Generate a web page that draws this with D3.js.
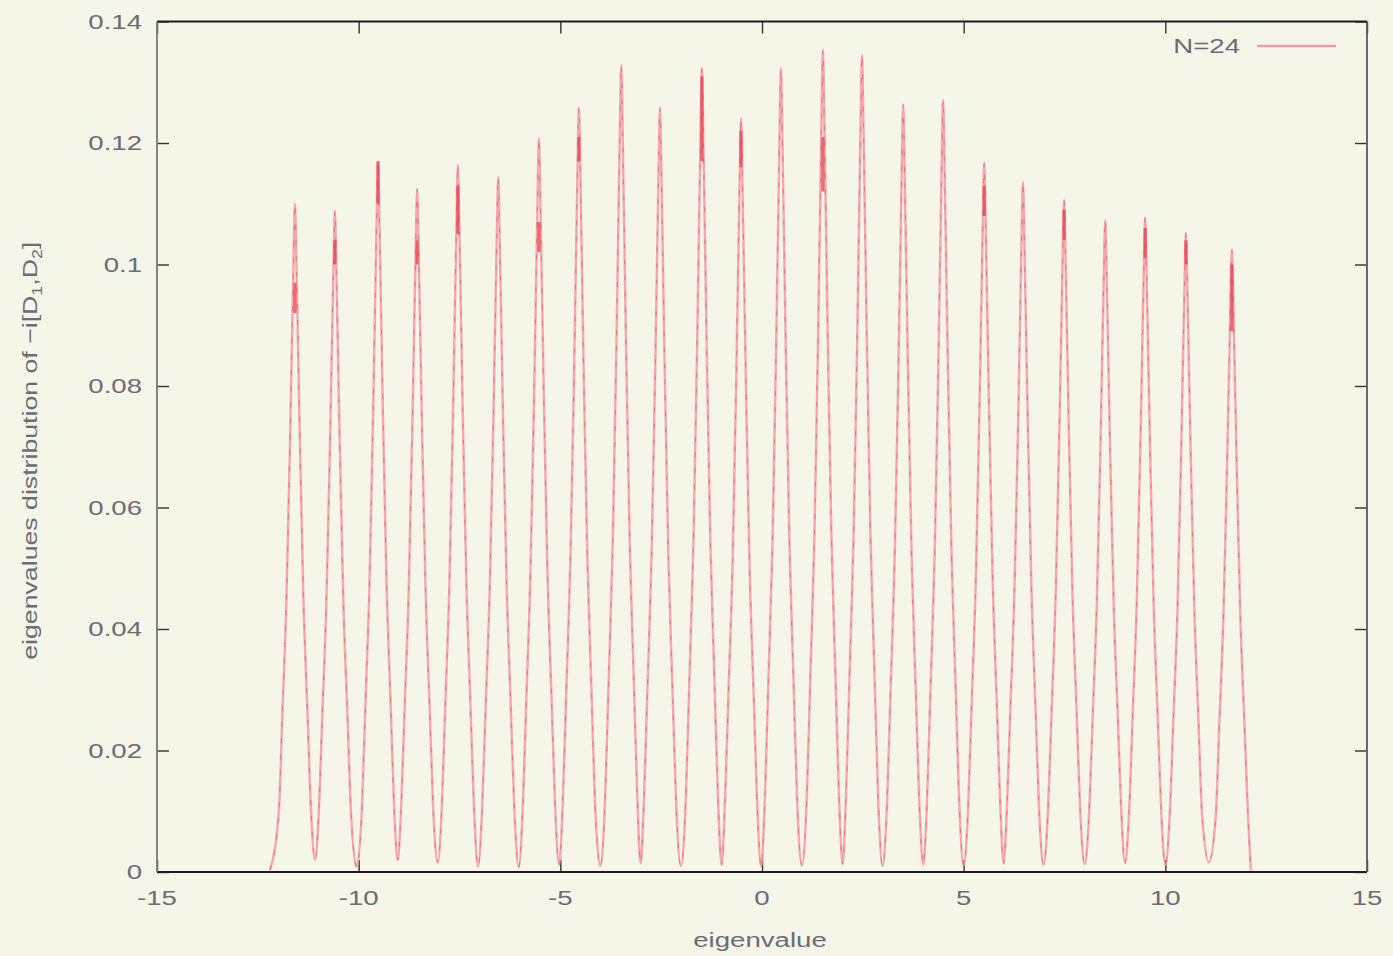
<!DOCTYPE html>
<html>
<head>
<meta charset="utf-8">
<script src="https://cdn.jsdelivr.net/npm/d3@7"></script>
<style>
  html, body { margin: 0; padding: 0; background: #f5f5e8; }
  svg { display: block; }
  text { font-family: "Liberation Sans", Arial, Helvetica, sans-serif; }
</style>
</head>
<body>
<svg id="chart" width="1393" height="956"></svg>
<script>
// Axis ticks and their printed labels
const xTicks = [-15, -10, -5, 0, 5, 10, 15];
const xTickLabels = ["-15", "-10", "-5", "0", "5", "10", "15"];
const yTicks = [0, 0.02, 0.04, 0.06, 0.08, 0.1, 0.12, 0.14];
const yTickLabels = ["0", "0.02", "0.04", "0.06", "0.08", "0.1", "0.12", "0.14"];

const seriesName = "N=24";
const xTitle = "eigenvalue";

// Eigenvalue density trace, one row per peak (valley, rising flank, peak, falling flank)
const trace = [
  [-12.20, 0.0003],
  [-11.98, 0.0099], [-11.89, 0.0264], [-11.79, 0.0451], [-11.70, 0.0715], [-11.62, 0.0990], [-11.58, 0.1100], [-11.54, 0.0990], [-11.46, 0.0715], [-11.37, 0.0451], [-11.27, 0.0264], [-11.18, 0.0099],
  [-11.08, 0.0020],
  [-10.99, 0.0098], [-10.90, 0.0261], [-10.80, 0.0446], [-10.71, 0.0707], [-10.63, 0.0979], [-10.59, 0.1088], [-10.55, 0.0979], [-10.47, 0.0707], [-10.38, 0.0446], [-10.28, 0.0261], [-10.19, 0.0098],
  [-10.05, 0.0008],
  [-9.92, 0.0105], [-9.83, 0.0281], [-9.73, 0.0479], [-9.64, 0.0760], [-9.56, 0.1052], [-9.52, 0.1169], [-9.48, 0.1052], [-9.40, 0.0760], [-9.31, 0.0479], [-9.21, 0.0281], [-9.12, 0.0105],
  [-9.03, 0.0020],
  [-8.95, 0.0101], [-8.86, 0.0270], [-8.76, 0.0461], [-8.67, 0.0731], [-8.59, 0.1012], [-8.55, 0.1124], [-8.51, 0.1012], [-8.43, 0.0731], [-8.34, 0.0461], [-8.24, 0.0270], [-8.15, 0.0101],
  [-8.04, 0.0016],
  [-7.94, 0.0105], [-7.85, 0.0279], [-7.75, 0.0477], [-7.66, 0.0757], [-7.58, 0.1048], [-7.54, 0.1164], [-7.50, 0.1048], [-7.42, 0.0757], [-7.33, 0.0477], [-7.23, 0.0279], [-7.14, 0.0105],
  [-7.04, 0.0009],
  [-6.94, 0.0103], [-6.85, 0.0275], [-6.75, 0.0469], [-6.66, 0.0744], [-6.58, 0.1030], [-6.54, 0.1144], [-6.50, 0.1030], [-6.42, 0.0744], [-6.33, 0.0469], [-6.23, 0.0275], [-6.14, 0.0103],
  [-6.03, 0.0008],
  [-5.93, 0.0109], [-5.84, 0.0290], [-5.74, 0.0495], [-5.65, 0.0785], [-5.57, 0.1087], [-5.53, 0.1208], [-5.49, 0.1087], [-5.41, 0.0785], [-5.32, 0.0495], [-5.22, 0.0290], [-5.13, 0.0109],
  [-5.03, 0.0012],
  [-4.94, 0.0113], [-4.85, 0.0302], [-4.75, 0.0516], [-4.66, 0.0818], [-4.58, 0.1132], [-4.54, 0.1258], [-4.50, 0.1132], [-4.42, 0.0818], [-4.33, 0.0516], [-4.23, 0.0302], [-4.14, 0.0113],
  [-4.01, 0.0010],
  [-3.89, 0.0120], [-3.80, 0.0319], [-3.70, 0.0544], [-3.61, 0.0863], [-3.53, 0.1195], [-3.49, 0.1328], [-3.45, 0.1195], [-3.37, 0.0863], [-3.28, 0.0544], [-3.18, 0.0319], [-3.09, 0.0120],
  [-3.01, 0.0014],
  [-2.93, 0.0113], [-2.84, 0.0302], [-2.74, 0.0516], [-2.65, 0.0818], [-2.57, 0.1132], [-2.53, 0.1258], [-2.49, 0.1132], [-2.41, 0.0818], [-2.32, 0.0516], [-2.22, 0.0302], [-2.13, 0.0113],
  [-2.01, 0.0010],
  [-1.89, 0.0119], [-1.80, 0.0318], [-1.70, 0.0542], [-1.61, 0.0860], [-1.53, 0.1191], [-1.49, 0.1323], [-1.45, 0.1191], [-1.37, 0.0860], [-1.28, 0.0542], [-1.18, 0.0318], [-1.09, 0.0119],
  [-1.00, 0.0012],
  [-0.92, 0.0112], [-0.83, 0.0298], [-0.73, 0.0508], [-0.64, 0.0806], [-0.56, 0.1116], [-0.52, 0.1240], [-0.48, 0.1116], [-0.40, 0.0806], [-0.31, 0.0508], [-0.21, 0.0298], [-0.12, 0.0112],
  [-0.02, 0.0009],
  [0.07, 0.0119], [0.16, 0.0318], [0.26, 0.0542], [0.35, 0.0860], [0.43, 0.1191], [0.47, 0.1323], [0.51, 0.1191], [0.59, 0.0860], [0.68, 0.0542], [0.78, 0.0318], [0.87, 0.0119],
  [0.99, 0.0011],
  [1.11, 0.0122], [1.20, 0.0325], [1.30, 0.0555], [1.39, 0.0879], [1.47, 0.1218], [1.51, 0.1353], [1.55, 0.1218], [1.63, 0.0879], [1.72, 0.0555], [1.82, 0.0325], [1.91, 0.0122],
  [2.00, 0.0013],
  [2.08, 0.0121], [2.17, 0.0323], [2.27, 0.0551], [2.36, 0.0874], [2.44, 0.1211], [2.48, 0.1345], [2.52, 0.1211], [2.60, 0.0874], [2.69, 0.0551], [2.79, 0.0323], [2.88, 0.0121],
  [2.99, 0.0010],
  [3.10, 0.0114], [3.19, 0.0303], [3.29, 0.0518], [3.38, 0.0821], [3.46, 0.1137], [3.50, 0.1263], [3.54, 0.1137], [3.62, 0.0821], [3.71, 0.0518], [3.81, 0.0303], [3.90, 0.0114],
  [4.00, 0.0012],
  [4.09, 0.0114], [4.18, 0.0305], [4.28, 0.0521], [4.37, 0.0826], [4.45, 0.1144], [4.49, 0.1271], [4.53, 0.1144], [4.61, 0.0826], [4.70, 0.0521], [4.80, 0.0305], [4.89, 0.0114],
  [5.00, 0.0011],
  [5.11, 0.0105], [5.20, 0.0280], [5.30, 0.0478], [5.39, 0.0759], [5.47, 0.1050], [5.51, 0.1167], [5.55, 0.1050], [5.63, 0.0759], [5.72, 0.0478], [5.82, 0.0280], [5.91, 0.0105],
  [5.99, 0.0014],
  [6.07, 0.0102], [6.16, 0.0273], [6.26, 0.0466], [6.35, 0.0738], [6.43, 0.1022], [6.47, 0.1136], [6.51, 0.1022], [6.59, 0.0738], [6.68, 0.0466], [6.78, 0.0273], [6.87, 0.0102],
  [6.98, 0.0012],
  [7.09, 0.0100], [7.18, 0.0265], [7.28, 0.0453], [7.37, 0.0719], [7.45, 0.0995], [7.49, 0.1106], [7.53, 0.0995], [7.61, 0.0719], [7.70, 0.0453], [7.80, 0.0265], [7.89, 0.0100],
  [8.00, 0.0013],
  [8.11, 0.0097], [8.20, 0.0258], [8.30, 0.0440], [8.39, 0.0697], [8.47, 0.0966], [8.51, 0.1073], [8.55, 0.0966], [8.63, 0.0697], [8.72, 0.0440], [8.82, 0.0258], [8.91, 0.0097],
  [9.00, 0.0015],
  [9.10, 0.0097], [9.19, 0.0258], [9.29, 0.0442], [9.38, 0.0700], [9.46, 0.0969], [9.50, 0.1077], [9.54, 0.0969], [9.62, 0.0700], [9.71, 0.0442], [9.81, 0.0258], [9.90, 0.0097],
  [10.00, 0.0012],
  [10.11, 0.0095], [10.20, 0.0252], [10.30, 0.0431], [10.39, 0.0684], [10.47, 0.0947], [10.51, 0.1052], [10.55, 0.0947], [10.63, 0.0684], [10.72, 0.0431], [10.82, 0.0252], [10.91, 0.0095],
  [11.08, 0.0016],
  [11.25, 0.0092], [11.34, 0.0246], [11.44, 0.0420], [11.53, 0.0666], [11.61, 0.0922], [11.65, 0.1024], [11.69, 0.0922], [11.77, 0.0666], [11.86, 0.0420], [11.96, 0.0246], [12.05, 0.0092],
  [12.12, 0.0002]
];

// Stretches near the peak tops where the sampled trace is noisy: [x, yFrom, yTo]
const noiseBands = [
  [-11.58, 0.092, 0.097],
  [-10.59, 0.100, 0.104],
  [-9.52, 0.110, 0.117],
  [-8.55, 0.100, 0.104],
  [-7.54, 0.105, 0.113],
  [-5.53, 0.102, 0.107],
  [-4.54, 0.117, 0.121],
  [-1.49, 0.117, 0.131],
  [-0.52, 0.116, 0.122],
  [1.51, 0.112, 0.121],
  [5.51, 0.108, 0.113],
  [7.49, 0.104, 0.109],
  [9.50, 0.101, 0.106],
  [10.51, 0.100, 0.104],
  [11.65, 0.089, 0.100]
];

const W = 1393, H = 956;
const plot = { left: 157, right: 1367, top: 21.5, bottom: 872 };
const textColor = "#6c6c74";
const lineColor = "#f29aa3";
const lineCore = "#e64a5c";
const stretch = 1.38; // horizontal widening of the label glyphs

const svg = d3.select("#chart");
svg.append("rect").attr("width", W).attr("height", H).attr("fill", "#f5f5e8");

const x = d3.scaleLinear().domain([-15, 15]).range([plot.left, plot.right]);
const y = d3.scaleLinear().domain([0, 0.14]).range([plot.bottom, plot.top]);

// Ticks pointing inward on all four sides (labels drawn separately)
const tickLen = 12;
const tickStyle = g => g.call(s => s.select(".domain").remove())
                        .call(s => s.selectAll(".tick line").attr("stroke", "#333").attr("stroke-width", 1.4))
                        .call(s => s.selectAll(".tick text").remove());

svg.append("g").attr("transform", `translate(0,${plot.bottom})`)
  .call(d3.axisBottom(x).tickValues(xTicks).tickSizeInner(-tickLen).tickSizeOuter(0)).call(tickStyle);
svg.append("g").attr("transform", `translate(0,${plot.top})`)
  .call(d3.axisTop(x).tickValues(xTicks).tickSizeInner(-tickLen).tickSizeOuter(0)).call(tickStyle);
svg.append("g").attr("transform", `translate(${plot.left},0)`)
  .call(d3.axisLeft(y).tickValues(yTicks).tickSizeInner(-tickLen).tickSizeOuter(0)).call(tickStyle);
svg.append("g").attr("transform", `translate(${plot.right},0)`)
  .call(d3.axisRight(y).tickValues(yTicks).tickSizeInner(-tickLen).tickSizeOuter(0)).call(tickStyle);

// Frame
const frame = svg.append("g").attr("fill", "none").attr("stroke-width", 1.8);
frame.append("line").attr("x1", plot.left).attr("x2", plot.right).attr("y1", plot.top).attr("y2", plot.top).attr("stroke", "#1e1e1e");
frame.append("line").attr("x1", plot.left).attr("x2", plot.right).attr("y1", plot.bottom).attr("y2", plot.bottom).attr("stroke", "#1e1e1e");
frame.append("line").attr("x1", plot.left).attr("x2", plot.left).attr("y1", plot.top).attr("y2", plot.bottom).attr("stroke", "#7a7a7a");
frame.append("line").attr("x1", plot.right).attr("x2", plot.right).attr("y1", plot.top).attr("y2", plot.bottom).attr("stroke", "#5a5a5a");

// Tick labels
const labelSize = 20;
svg.append("g").selectAll("g").data(xTicks).join("g")
  .attr("transform", d => `translate(${x(d)},${plot.bottom + 33}) scale(${stretch},1)`)
  .append("text").attr("text-anchor", "middle").attr("font-size", labelSize).attr("fill", textColor)
  .text((d, i) => xTickLabels[i]);

svg.append("g").selectAll("g").data(yTicks).join("g")
  .attr("transform", d => `translate(${plot.left - 15},${y(d) + 7}) scale(${stretch},1)`)
  .append("text").attr("text-anchor", "end").attr("font-size", labelSize).attr("fill", textColor)
  .text((d, i) => yTickLabels[i]);

// Axis titles
svg.append("g").attr("transform", `translate(${(plot.left + plot.right) / 2 - 2},${plot.bottom + 75}) scale(${stretch},1)`)
  .append("text").attr("text-anchor", "middle").attr("font-size", labelSize).attr("fill", textColor).text(xTitle);

const yTitle = svg.append("text")
  .attr("transform", `translate(37,${(plot.top + plot.bottom) / 2 + 4}) rotate(-90)`)
  .attr("text-anchor", "middle").attr("font-size", 21).attr("fill", textColor)
  .attr("textLength", 418).attr("lengthAdjust", "spacingAndGlyphs");
yTitle.append("tspan").text("eigenvalues distribution of \u2212i[D");
yTitle.append("tspan").attr("font-size", 14).attr("dy", 5).text("1");
yTitle.append("tspan").attr("dy", -5).text(",D");
yTitle.append("tspan").attr("font-size", 14).attr("dy", 5).text("2");
yTitle.append("tspan").attr("dy", -5).text("]");

// The density trace
svg.append("clipPath").attr("id", "plotClip").append("rect")
  .attr("x", plot.left).attr("y", plot.top).attr("width", plot.right - plot.left).attr("height", plot.bottom - plot.top);

const line = d3.line().x(d => x(d[0])).y(d => y(d[1])).curve(d3.curveMonotoneX);
const traceG = svg.append("g").attr("clip-path", "url(#plotClip)");
traceG.append("path").datum(trace).attr("d", line)
  .attr("fill", "none").attr("stroke", lineColor).attr("stroke-width", 2.4).attr("stroke-opacity", 0.85)
  .attr("stroke-linejoin", "round");
traceG.append("path").datum(trace).attr("d", line)
  .attr("fill", "none").attr("stroke", lineCore).attr("stroke-width", 1.1).attr("stroke-opacity", 0.55)
  .attr("stroke-dasharray", "5 11");

traceG.selectAll("line.noise").data(noiseBands).join("line").attr("class", "noise")
  .attr("x1", d => x(d[0])).attr("x2", d => x(d[0]))
  .attr("y1", d => y(d[1])).attr("y2", d => y(d[2]))
  .attr("stroke", "#e8404f").attr("stroke-width", 3.2).attr("stroke-opacity", 0.75);

// Key
const key = svg.append("g");
key.append("g").attr("transform", `translate(1240,53) scale(${stretch},1)`)
  .append("text").attr("text-anchor", "end").attr("font-size", labelSize).attr("fill", textColor).text(seriesName);
key.append("line").attr("x1", 1257).attr("x2", 1336).attr("y1", 46).attr("y2", 46)
  .attr("stroke", lineColor).attr("stroke-width", 2.4);
</script>
</body>
</html>
